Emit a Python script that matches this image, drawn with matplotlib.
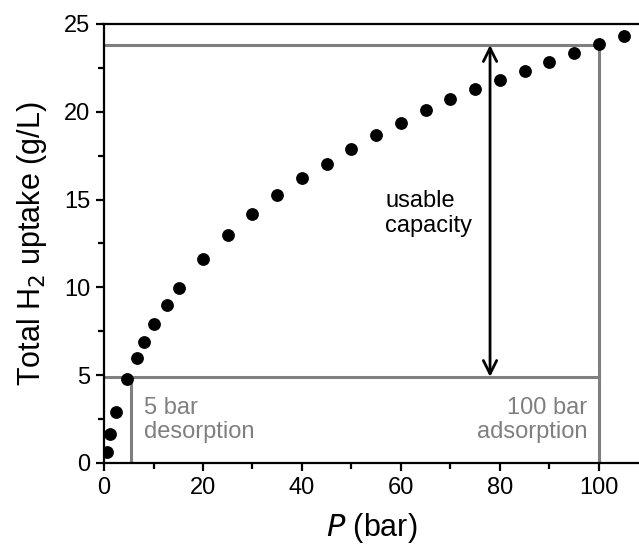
import numpy as np
import matplotlib.pyplot as plt
from matplotlib.ticker import MultipleLocator

plt.rcParams['font.family'] = ['Liberation Sans', 'DejaVu Sans']

# isotherm points
pressure = [0.5, 1.3, 2.5, 4.7, 6.6, 8.1, 10.1, 12.7, 15.2, 20, 25, 30, 35, 40,
            45, 50, 55, 60, 65, 70, 75, 80, 85, 90, 95, 100, 105]
uptake = [0.65, 1.65, 2.9, 4.8, 6.0, 6.9, 7.9, 9.0, 9.95, 11.6, 13.0, 14.2, 15.25,
          16.2, 17.0, 17.9, 18.7, 19.35, 20.08, 20.7, 21.28, 21.8, 22.34, 22.84,
          23.35, 23.86, 24.3]

# working window
p_des = 5.4
p_ads = 100
q_des = 4.9
q_ads = 23.8
arrow_p = 78

grey = '#7f7f7f'

fig = plt.figure(figsize=(6.39, 5.47), dpi=100)
ax = fig.add_axes([0.1628, 0.1536, 0.8372, 0.8026])

ax.plot(pressure, uptake, 'o', color='black', markersize=8.2, zorder=3)

ax.plot([0, p_ads, p_ads], [q_ads, q_ads, 0], color=grey, lw=2.2, zorder=2)
ax.plot([0, p_ads], [q_des, q_des], color=grey, lw=2.2, zorder=2)
ax.plot([p_des, p_des], [0, q_des], color=grey, lw=2.2, zorder=2)

ax.annotate('', xy=(arrow_p, q_ads), xytext=(arrow_p, q_des),
            arrowprops=dict(arrowstyle='<->', color='black', lw=2,
                            mutation_scale=24, shrinkA=0, shrinkB=0))

ax.text(56.8, 14.2, 'usable\ncapacity', fontsize=17, ha='left', va='center',
        linespacing=1.15)
ax.text(8.1, 2.45, '5 bar\ndesorption', fontsize=17, color=grey, ha='left',
        va='center', linespacing=1.1)
ax.text(97.6, 2.45, '100 bar\nadsorption', fontsize=17, color=grey, ha='right',
        va='center', linespacing=1.1)

ax.set_xlim(0, 108.1)
ax.set_ylim(0, 25)
ax.xaxis.set_major_locator(MultipleLocator(20))
ax.xaxis.set_minor_locator(MultipleLocator(10))
ax.yaxis.set_major_locator(MultipleLocator(5))
ax.yaxis.set_minor_locator(MultipleLocator(2.5))

ax.spines['right'].set_visible(False)
for s in ['left', 'bottom', 'top']:
    ax.spines[s].set_linewidth(1.6)
ax.tick_params(which='major', direction='out', length=6, width=1.6, pad=4,
               labelsize=17, top=False, right=False)
ax.tick_params(which='minor', direction='out', length=4, width=1.6,
               top=False, right=False)

ax.set_xlabel('$\\mathit{P}$ (bar)', fontsize=22, labelpad=9)
ax.set_ylabel('Total H$_2$ uptake (g/L)', fontsize=22, labelpad=11)

fig.savefig('out.png', dpi=100)
